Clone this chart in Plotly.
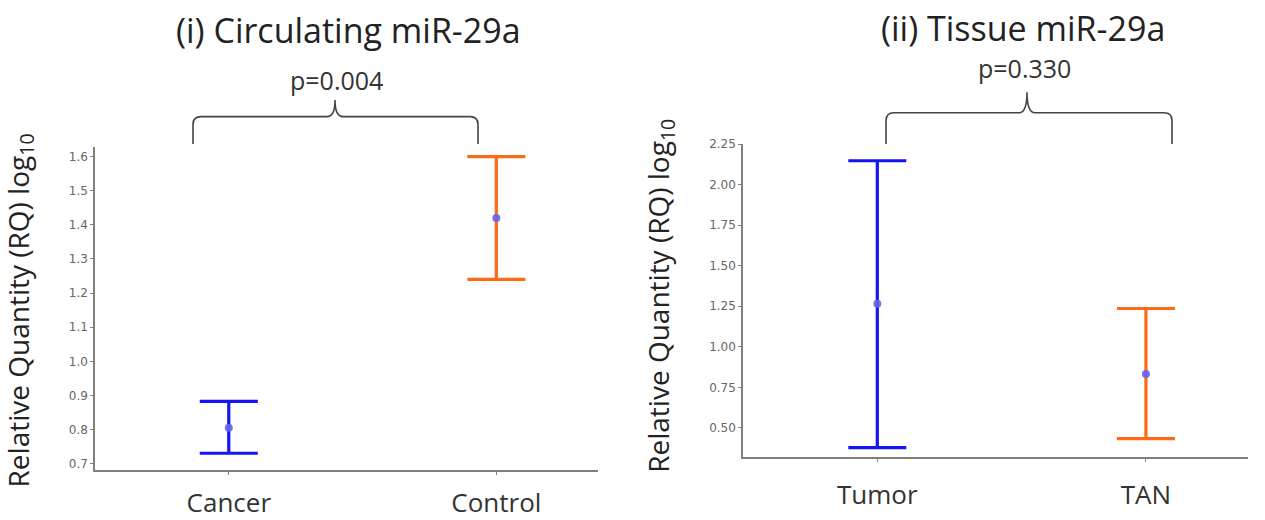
import plotly.graph_objects as go

W, H = 1265, 520

# Data
circ_categories = ["Cancer", "Control"]
circ_mean = [0.806, 1.42]
circ_upper = [0.883, 1.60]
circ_lower = [0.731, 1.24]

tis_categories = ["Tumor", "TAN"]
tis_mean = [1.266, 0.832]
tis_upper = [2.147, 1.236]
tis_lower = [0.379, 0.434]

circ_ticks = [0.7, 0.8, 0.9, 1.0, 1.1, 1.2, 1.3, 1.4, 1.5, 1.6]
tis_ticks = [0.50, 0.75, 1.00, 1.25, 1.50, 1.75, 2.00, 2.25]

titles = ["(i) Circulating miR-29a", "(ii) Tissue miR-29a"]
pvals = ["p=0.004", "p=0.330"]

colors = ["#1414f5", "#ff6a14"]
mean_color = "rgba(100,100,235,0.9)"
font_main = "Open Sans, DejaVu Sans, sans-serif"

fig = go.Figure()


def add_panel(cats, mean, upper, lower, xa, ya):
    for i, c in enumerate(cats):
        fig.add_trace(go.Scatter(
            x=[i], y=[mean[i]], mode="markers",
            marker=dict(color=mean_color, size=8),
            error_y=dict(type="data", symmetric=False,
                         array=[upper[i] - mean[i]],
                         arrayminus=[mean[i] - lower[i]],
                         color=colors[i], thickness=3.2, width=29),
            xaxis=xa, yaxis=ya, showlegend=False, hoverinfo="y"))


add_panel(circ_categories, circ_mean, circ_upper, circ_lower, "x", "y")
add_panel(tis_categories, tis_mean, tis_upper, tis_lower, "x2", "y2")

axis_common = dict(showline=True, linecolor="#808080", linewidth=1.5,
                   showgrid=False, zeroline=False, ticks="outside",
                   tickcolor="#808080", ticklen=3, tickwidth=1)

cat_font = dict(family=font_main, size=26, color="#333")
tick_font = dict(family="DejaVu Sans", size=12, color="#666")

fig.update_layout(
    width=W, height=H, margin=dict(l=0, r=0, t=0, b=0),
    paper_bgcolor="white", plot_bgcolor="white",
    xaxis=dict(domain=[95 / W, 598 / W], range=[-0.5, 1.38],
               tickvals=[0, 1], ticktext=circ_categories,
               tickfont=cat_font, ticklabelstandoff=6,
               anchor="y", **axis_common),
    yaxis=dict(domain=[1 - 473 / H, 1 - 143 / H], range=[0.682, 1.628],
               tickvals=circ_ticks, ticktext=[f"{v:.1f}" for v in circ_ticks],
               tickfont=tick_font, anchor="x", **axis_common),
    xaxis2=dict(domain=[743 / W, 1248 / W], range=[-0.5, 1.38],
                tickvals=[0, 1], ticktext=tis_categories,
                tickfont=cat_font, ticklabelstandoff=11,
                anchor="y2", **axis_common),
    yaxis2=dict(domain=[1 - 460 / H, 1 - 140 / H], range=[0.319, 2.25],
                tickvals=tis_ticks, ticktext=[f"{v:.2f}" for v in tis_ticks],
                tickfont=tick_font, anchor="x2", **axis_common),
)


def txt(text, x, y, size, color="#222", angle=0):
    return dict(text=text, x=x / W, y=1 - y / H, xref="paper", yref="paper",
                xanchor="center", yanchor="middle", showarrow=False,
                textangle=angle, font=dict(family=font_main, size=size, color=color))


ytitle = "Relative Quantity (RQ) log<sub>10</sub>"
ann = [
    txt(titles[0], 348, 23, 34),
    txt(titles[1], 1023, 21, 34),
    txt(pvals[0], 336, 75, 25, "#333"),
    txt(pvals[1], 1024, 62, 25, "#333"),
    txt(ytitle, 20, 310, 28, angle=-90),
    txt(ytitle, 660, 295, 28, angle=-90),
]
fig.update_layout(annotations=ann)


def brace(x0, x1, xm, ytop, ybot, ytip):
    def px(x):
        return x / W

    def py(y):
        return 1 - y / H
    r = 8
    path = (f"M {px(x0)},{py(ybot)} L {px(x0)},{py(ytop + r)} "
            f"Q {px(x0)},{py(ytop)} {px(x0 + r)},{py(ytop)} "
            f"L {px(xm - r)},{py(ytop)} "
            f"Q {px(xm)},{py(ytop)} {px(xm)},{py(ytip)} "
            f"Q {px(xm)},{py(ytop)} {px(xm + r)},{py(ytop)} "
            f"L {px(x1 - r)},{py(ytop)} "
            f"Q {px(x1)},{py(ytop)} {px(x1)},{py(ytop + r)} "
            f"L {px(x1)},{py(ybot)}")
    return dict(type="path", path=path, xref="paper", yref="paper",
                line=dict(color="#444", width=1.6))


fig.update_layout(shapes=[
    brace(193, 478, 335, 112, 140, 95),
    brace(886, 1172, 1027, 108, 140, 87),
])

fig.write_html("out.html", config={"displayModeBar": False},
               post_script="document.body.style.margin='0';document.body.style.padding='0';")
